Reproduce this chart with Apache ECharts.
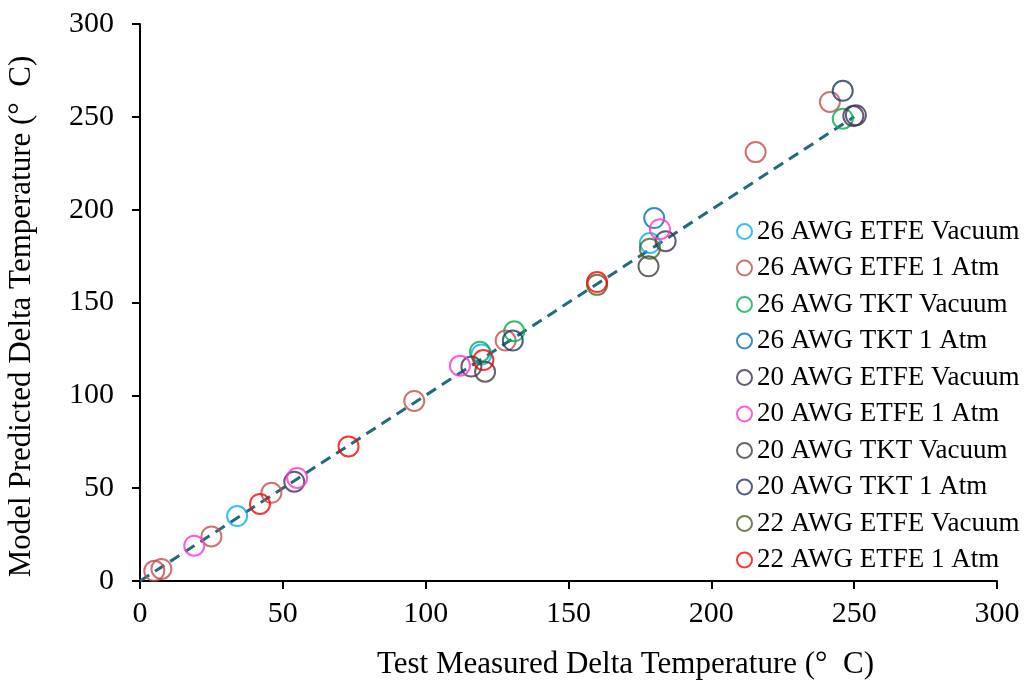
<!DOCTYPE html>
<html>
<head>
<meta charset="utf-8">
<script src="https://cdn.jsdelivr.net/npm/echarts@6/dist/echarts.min.js"></script>
<style>
  html, body { margin: 0; padding: 0; background: #fff; }
  #main { width: 1024px; height: 681px; }
</style>
</head>
<body>
<div id="main"></div>
<script>
// 各系列数据 [测量值, 预测值]
var names = ['26 AWG ETFE Vacuum', '26 AWG ETFE 1 Atm', '26 AWG TKT Vacuum', '26 AWG TKT 1 Atm',
  '20 AWG ETFE Vacuum', '20 AWG ETFE 1 Atm', '20 AWG TKT Vacuum', '20 AWG TKT 1 Atm',
  '22 AWG ETFE Vacuum', '22 AWG ETFE 1 Atm'];
var colors = ['#00B0F0', '#C0504D', '#00B050', '#0070C0', '#403152',
  '#FF33CC', '#404040', '#1F3864', '#4F6228', '#FF0000'];

var awg26EtfeVac = [[34, 35], [119.5, 122], [178.5, 182]];
var awg26EtfeAtm = [[5, 5.5], [7.5, 6.5], [25, 24], [46, 47.5], [96, 97], [128, 129.5], [215.5, 231], [241.5, 258]];
var awg26TktVac = [[119, 123.5], [131, 134.5], [246, 249]];
var awg26TktAtm = [[180, 195.5]];
var awg20EtfeVac = [[54, 53.5], [116, 115.5], [184, 183], [249.7, 250.4], [250.6, 250.9]];
var awg20EtfeAtm = [[19, 19], [55, 55.5], [112, 116], [182, 189.5]];
var awg20TktVac = [[120.8, 112.7], [178, 169.5]];
var awg20TktAtm = [[130.5, 129.5], [246, 264]];
var awg22EtfeVac = [[160, 159.5], [178.5, 179]];
var awg22EtfeAtm = [[42, 41.5], [73, 72.5], [120.2, 119], [160, 161]];
var fitLine = [[0, 0], [250, 250]];

var allData = [awg26EtfeVac, awg26EtfeAtm, awg26TktVac, awg26TktAtm, awg20EtfeVac,
  awg20EtfeAtm, awg20TktVac, awg20TktAtm, awg22EtfeVac, awg22EtfeAtm];

var myChart = echarts.init(document.getElementById('main'));
var font = '"Liberation Serif", "Times New Roman", serif';

var series = [{
  name: 'fit',
  type: 'line',
  data: fitLine,
  symbol: 'none',
  silent: true,
  lineStyle: { color: '#236A7B', width: 3, type: [11, 7] },
  z: 1
}];
allData.forEach(function (d, i) {
  series.push({
    name: names[i],
    type: 'scatter',
    data: d,
    symbol: 'circle',
    symbolSize: 20,
    itemStyle: { color: 'rgba(255,255,255,0)', borderColor: colors[i], borderWidth: 2 },
    z: 2
  });
});

var option = {
  animation: false,
  backgroundColor: '#fff',
  grid: { left: 140, right: 27, top: 24, bottom: 100, outerBoundsMode: 'none', containLabel: false },
  legend: {
    data: names.map(function (n, i) {
      return { name: n, itemStyle: { color: 'rgba(255,255,255,0)', borderColor: colors[i], borderWidth: 2 } };
    }),
    orient: 'vertical',
    left: 731,
    top: 213,
    icon: 'circle',
    itemWidth: 15,
    itemHeight: 15,
    itemGap: 9.5,
    textStyle: { fontFamily: font, fontSize: 27, color: '#000' }
  },
  xAxis: {
    type: 'value',
    min: 0,
    max: 300,
    interval: 50,
    name: 'Test Measured Delta Temperature (°  C)',
    nameLocation: 'middle',
    nameGap: 68,
    nameTextStyle: { fontFamily: font, fontSize: 31, color: '#000', padding: [0, 0, 0, 114] },
    axisLine: { show: true, lineStyle: { color: '#000', width: 2 } },
    axisTick: { show: true, inside: false, length: 8, lineStyle: { color: '#000', width: 2 } },
    axisLabel: { fontFamily: font, fontSize: 30, color: '#000', margin: 18 },
    splitLine: { show: false }
  },
  yAxis: {
    type: 'value',
    min: 0,
    max: 300,
    interval: 50,
    name: 'Model Predicted Delta Temperature (°  C)',
    nameLocation: 'middle',
    nameGap: 103,
    nameTextStyle: { fontFamily: font, fontSize: 31, color: '#000', padding: [0, 28, 0, 0] },
    axisLine: { show: true, lineStyle: { color: '#000', width: 2 } },
    axisTick: { show: true, inside: false, length: 8, lineStyle: { color: '#000', width: 2 } },
    axisLabel: { fontFamily: font, fontSize: 30, color: '#000', margin: 26 },
    splitLine: { show: false }
  },
  series: series
};

myChart.setOption(option);
</script>
</body>
</html>
